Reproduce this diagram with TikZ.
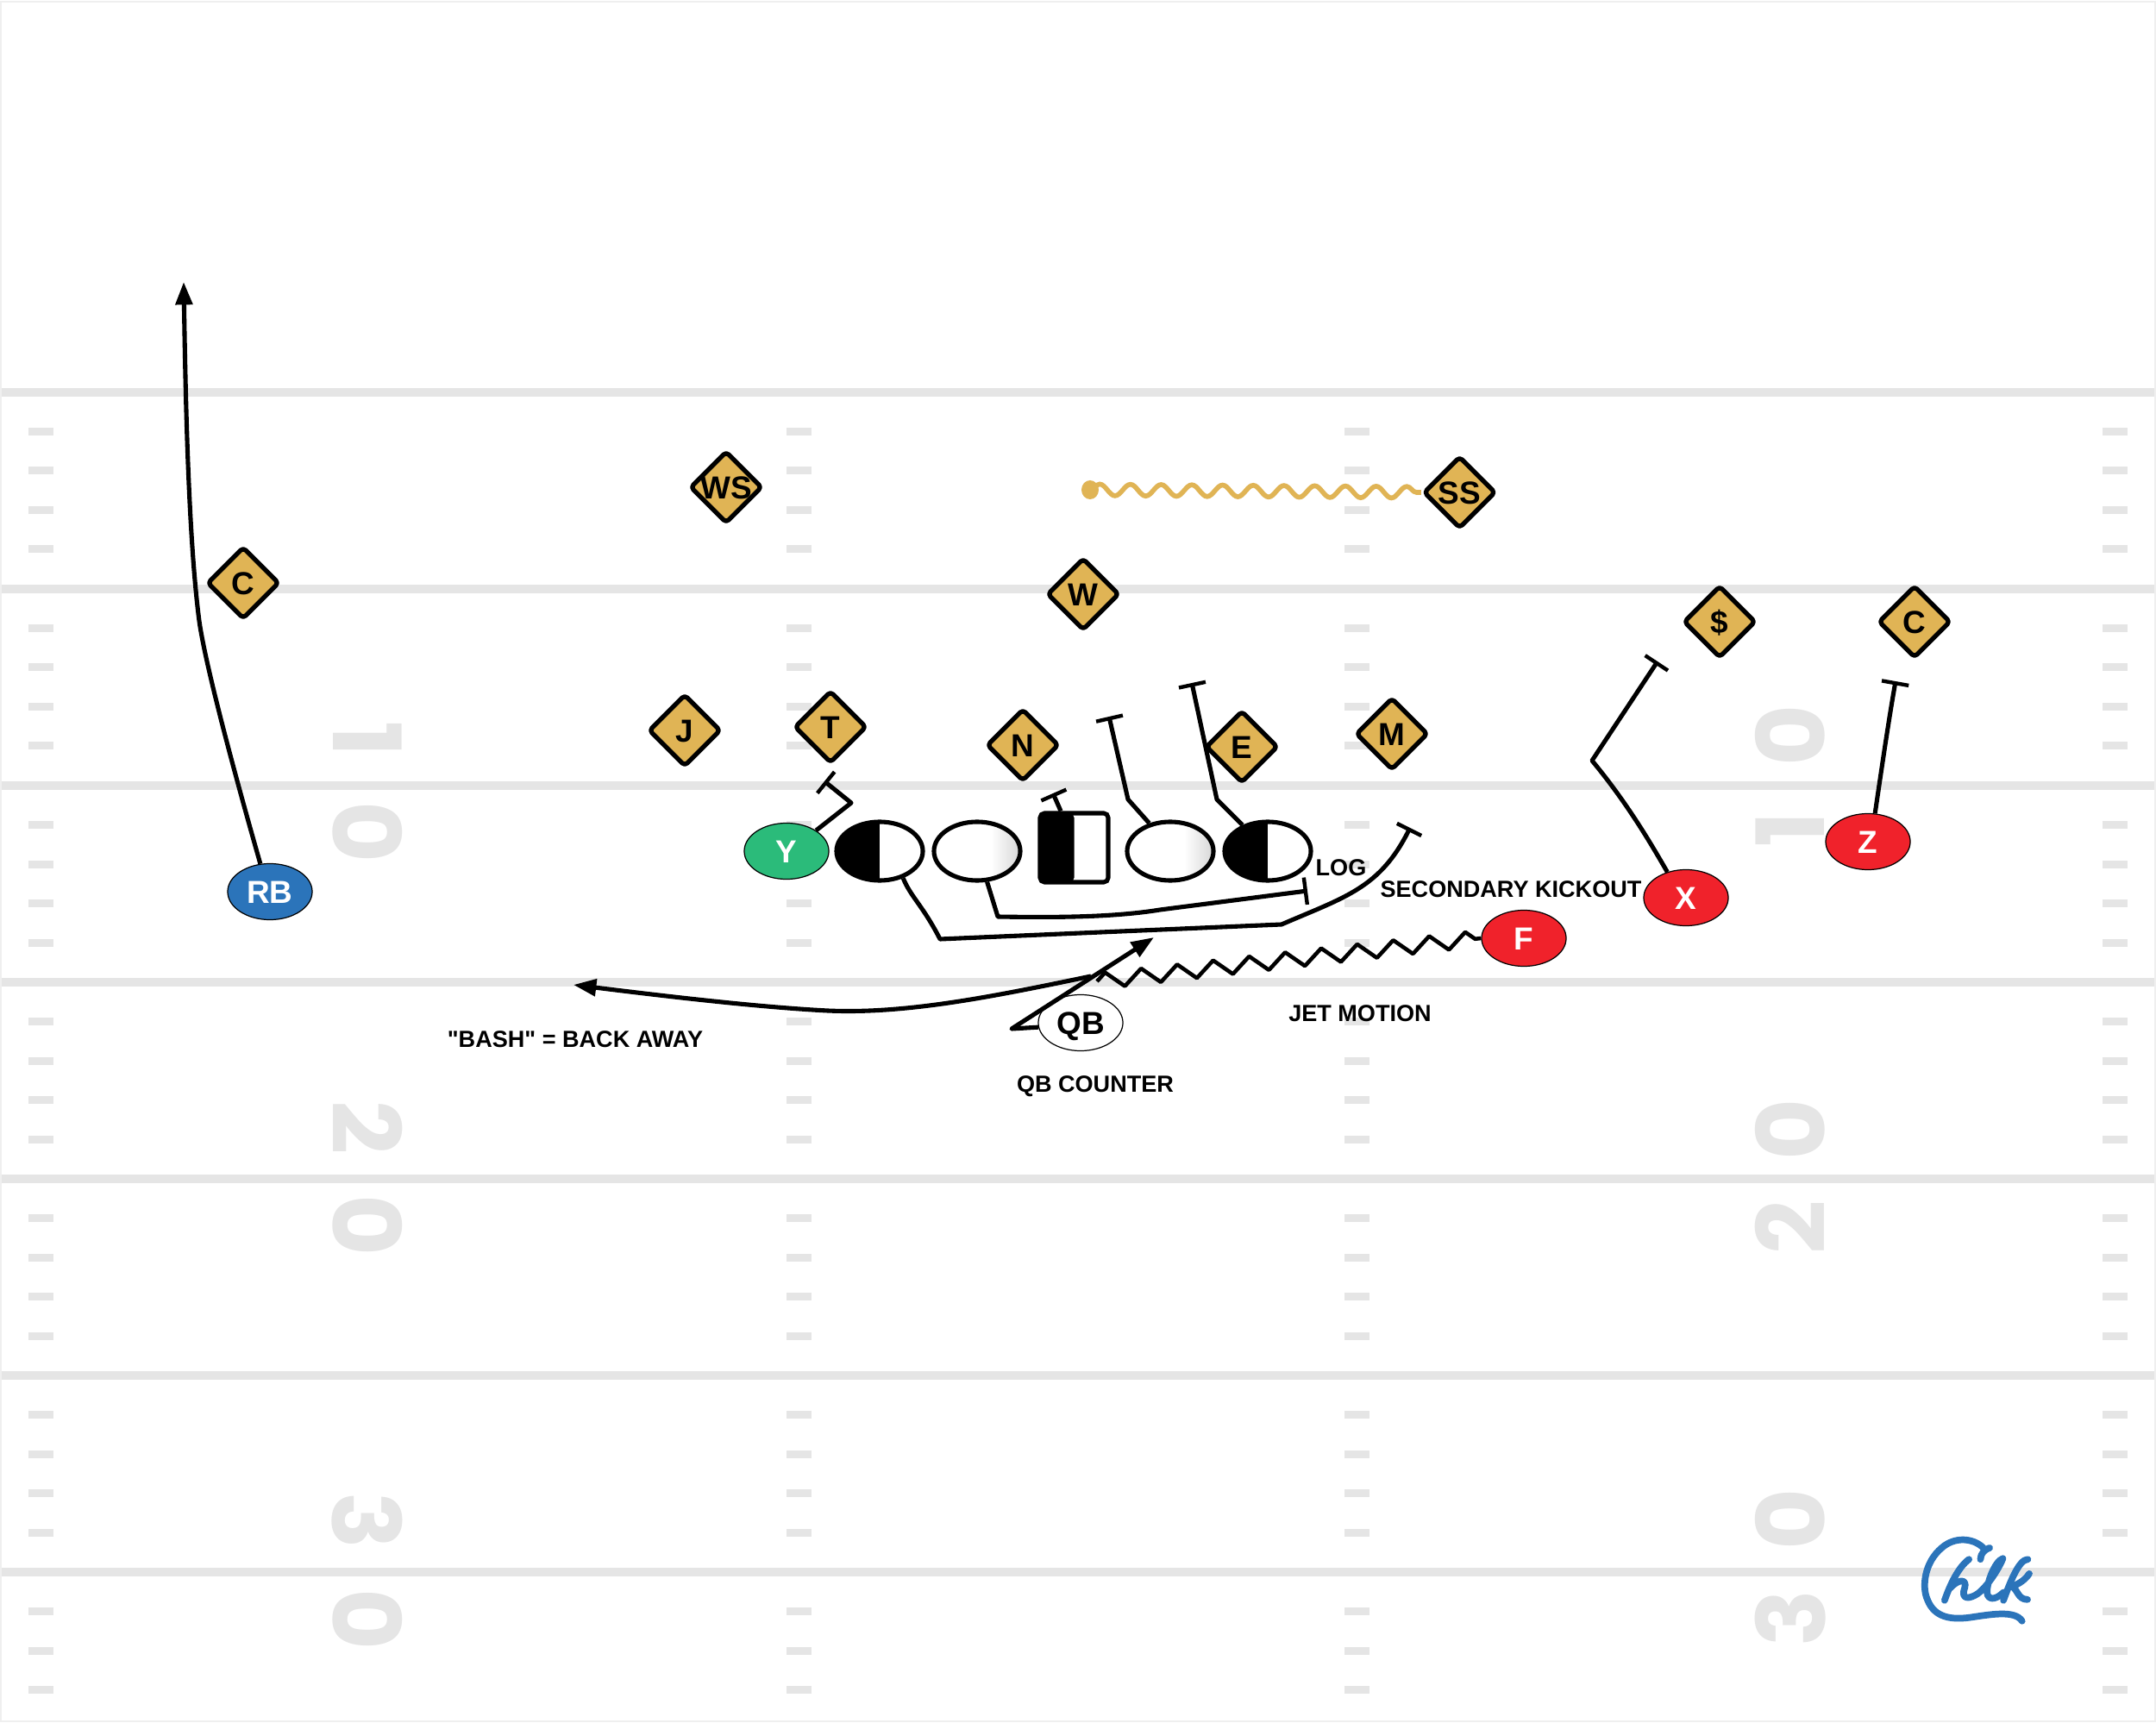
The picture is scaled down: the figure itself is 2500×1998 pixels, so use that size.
\documentclass[tikz,border=0pt]{standalone}
\usepackage{fontspec}
\setmainfont{Liberation Sans}
\newfontfamily\numfont{Poppins}
\newfontfamily\rawfont{Liberation Sans}
\usetikzlibrary{shapes.geometric,arrows.meta,decorations.pathmorphing}
\definecolor{fieldline}{HTML}{E5E5E5}
\definecolor{gold}{HTML}{E0B455}
\definecolor{oblue}{HTML}{2B74BA}
\definecolor{ored}{HTML}{F0222B}
\definecolor{ogreen}{HTML}{2BBB7A}
\pgfdeclarehorizontalshading{manfade}{100bp}{color(0bp)=(white);color(58bp)=(white);color(75bp)=(black!16);color(100bp)=(black!16)}
\tikzset{
  yardline/.style={draw=fieldline,line width=2.85pt},
  hashmark/.style={fill=fieldline},
  yardnum/.style={text=fieldline,inner sep=0pt,font=\numfont\fontsize{31}{31}\selectfont\bfseries},
  skill/.style={ellipse,draw=black,line width=.35pt,inner sep=0pt,minimum width=.98cm,minimum height=.65cm,font=\fontsize{10.5}{10.5}\selectfont\bfseries,text=white,text height=7.4pt,text depth=0pt},
  lineman/.style={ellipse,draw=black,line width=1.45pt,inner sep=0pt,minimum width=1cm,minimum height=.68cm},
  halfblack/.style={lineman,fill=white,path picture={\fill[black] (path picture bounding box.south west) rectangle (path picture bounding box.north);}},
  shaded man/.style={lineman,shading=manfade},
  centerbox/.style={rectangle,rounded corners=1.5pt,draw=black,line width=1.45pt,fill=white,inner sep=0pt,minimum width=.79cm,minimum height=.8cm,path picture={\fill[black] (path picture bounding box.south west) rectangle (path picture bounding box.north);}},
  defender/.style={diamond,aspect=1,draw=black,fill=gold,line width=1.5pt,rounded corners=1.2pt,line join=round,inner sep=0pt,minimum width=.84cm,minimum height=.84cm,font=\fontsize{10.5}{10.5}\selectfont\bfseries,text height=7.4pt,text depth=0pt},
  playlabel/.style={inner sep=0pt,font=\rawfont\fontsize{7.7}{8}\selectfont\bfseries},
  route/.style={draw=black,line width=1.45pt,line join=round},
  block/.style={route,-{Bar[width=9pt,line width=1.25pt]}},
  run/.style={route,-{Triangle[length=7.5pt,width=5.5pt]}},
  jet/.style={route,line width=1.3pt,decorate,decoration={zigzag,segment length=42*.2845pt,amplitude=2.6pt}},
  shiver/.style={draw=gold,line width=1.6pt,decorate,decoration={snake,segment length=35.6*.2845pt,amplitude=1.9pt}},
  logo/.style={draw=oblue,line width=2.2pt,line cap=round,line join=round}
}
\newcommand{\dn}[1]{\makebox[0pt]{#1}}
\begin{document}
\begin{tikzpicture}[x=0.01cm,y=-0.01cm]
\useasboundingbox (0,0) rectangle (2500,1998);
\fill[white] (0,0) rectangle (2500,1998);
\draw[fieldline!60,line width=.6pt] (1,2) rectangle (2499,1996);
% yard lines
\foreach \yy in {455,683,911,1139,1367,1595,1823} \draw[yardline] (2,\yy) -- (2498,\yy);
% hash marks
\foreach \yy in {455,683,911,1139,1367,1595,1823}
  \foreach \k in {1,2,3,4} {
    \pgfmathsetmacro{\hy}{\yy+45.5*\k}
    \ifdim\hy pt<1990pt
    \foreach \xa in {33,912,1559,2438} {
      \fill[hashmark] (\xa,\hy-4.5) rectangle (\xa+29,\hy+4.5);
    }
    \fi
  }
% yard numbers
\node[yardnum,rotate=-90] (la) at (426,857) {1};
\node[yardnum,rotate=-90] (lb) at (426,965) {0};
\node[yardnum,rotate=-90] (lc) at (426,1308) {2};
\node[yardnum,rotate=-90] (ld) at (426,1421) {0};
\node[yardnum,rotate=-90] (le) at (426,1763) {3};
\node[yardnum,rotate=-90] (lf) at (426,1878) {0};
\node[yardnum,rotate=90] (ra) at (2076,853) {0};
\node[yardnum,rotate=90] (rb) at (2076,962) {1};
\node[yardnum,rotate=90] (rc) at (2076,1310) {0};
\node[yardnum,rotate=90] (rd) at (2076,1423) {2};
\node[yardnum,rotate=90] (re) at (2076,1762) {0};
\node[yardnum,rotate=90] (rf) at (2076,1877) {3};
% offence
\node[skill,fill=oblue] (RB) at (313,1034) {RB};
\node[skill,fill=ogreen] (Y) at (912,987) {Y};
\node[halfblack] (LT) at (1020,987) {};
\node[shaded man] (LG) at (1133,987) {};
\node[centerbox] (CC) at (1245.5,983) {};
\node[shaded man] (RG) at (1357,987) {};
\node[halfblack] (RT) at (1470,987) {};
\node[skill,fill=white,text=black] (QB) at (1253,1186) {QB};
\node[skill,fill=ored] (F) at (1767,1088) {F};
\node[skill,fill=ored] (X) at (1955,1041) {X};
\node[skill,fill=ored] (Z) at (2166,976) {Z};
% defence
\node[defender] (WS) at (842,565) {\dn{WS}};
\node[defender] (SS) at (1692.5,571) {\dn{SS}};
\node[defender] (CL) at (282,676) {\dn{C}};
\node[defender] (W) at (1256,689) {\dn{W}};
\node[defender] (DS) at (1994,721) {\dn{\$}};
\node[defender] (CR) at (2220,721) {\dn{C}};
\node[defender] (J) at (794,847) {\dn{J}};
\node[defender] (T) at (963,843) {\dn{T}};
\node[defender] (N) at (1186,864) {\dn{N}};
\node[defender] (E) at (1440,866) {\dn{E}};
\node[defender] (M) at (1614,851) {\dn{M}};
% free ends
\coordinate (rbEnd) at (213,327);
\coordinate (yEnd) at (956,906);
\coordinate (ccEnd) at (1221,920);
\coordinate (rgEnd) at (1286,831);
\coordinate (rtEnd) at (1382,792);
\coordinate (xEnd) at (1922,767);
\coordinate (zEnd) at (2198,790);
\coordinate (ltEnd) at (1635,960);
\coordinate (lgEnd) at (1516,1033);
\coordinate (qbEnd) at (1338,1087);
\coordinate (bashStart) at (1265,1132);
\coordinate (bashEnd) at (665,1142);
\coordinate (jetEnd) at (1272,1138);
\coordinate (dot) at (1264,568);
% routes
\draw[run] (RB.109) .. controls (270,890) and (238,770) .. (231,720) .. controls (218,620) and (215,450) .. (rbEnd);
\draw[block] (Y.35) -- (987,931) -- (yEnd);
\draw[block] (CC.110) -- (ccEnd);
\draw[block] (RG.127) -- (1308,927) -- (rgEnd);
\draw[block] (RT.134) -- (1411,927) -- (rtEnd);
\draw[block] (X.126) .. controls (1918,985) and (1890,935) .. (1846,882) -- (xEnd);
\draw[block] (Z.76) .. controls (2182,890) and (2190,835) .. (zEnd);
\draw[block] (LT.-49) .. controls (1056,1040) and (1070,1050) .. (1090,1089) -- (1486,1072) .. controls (1560,1040) and (1600,1030) .. (ltEnd);
\draw[block] (LG.-72) -- (1157,1063) .. controls (1220,1064) and (1290,1064) .. (1345,1055) -- (lgEnd);
\draw[run] (QB.186) -- (1173,1193) -- (qbEnd);
\draw[run] (bashStart) .. controls (1150,1156) and (1050,1176) .. (960,1172) .. controls (880,1168) and (770,1155) .. (bashEnd);
\draw[jet] (jetEnd) -- (F.west);
\fill[gold] (dot) ellipse [x radius=10,y radius=11];
\draw[shiver] (dot) -- (SS.west);
% labels
\node[playlabel] (lbLog) at (1555,1006) {LOG};
\node[playlabel] (lbSec) at (1752,1031) {SECONDARY KICKOUT};
\node[playlabel] (lbJet) at (1577,1175) {JET MOTION};
\node[playlabel] (lbQb) at (1270,1260) {QB COUNTER};
\node[playlabel] (lbBash) at (667,1205) {"BASH" = BACK AWAY};
% logo
\begin{scope}[shift={(2150,1740)},x=0.00333cm,y=-0.00333cm]
\draw[logo] (440,205) .. controls (440,185) and (455,170) .. (472,165);
\draw[logo] (450,165) .. controls (415,130) and (350,125) .. (305,165) .. controls (245,215) and (235,300) .. (255,345) .. controls (280,410) and (340,415) .. (400,408) .. controls (470,398) and (560,380) .. (585,420);
\draw[logo] (400,205) .. controls (365,230) and (335,290) .. (315,348);
\draw[logo] (335,305) .. controls (360,275) and (395,270) .. (385,305) .. controls (370,345) and (400,345) .. (430,325) .. controls (470,295) and (510,225) .. (518,202) .. controls (490,210) and (455,300) .. (465,330) .. controls (475,350) and (500,340) .. (520,320);
\draw[logo] (605,205) .. controls (575,205) and (545,280) .. (520,348);
\draw[logo] (610,255) .. controls (590,285) and (560,295) .. (550,300) .. controls (570,310) and (570,345) .. (604,345);
\end{scope}
\end{tikzpicture}
\end{document}
